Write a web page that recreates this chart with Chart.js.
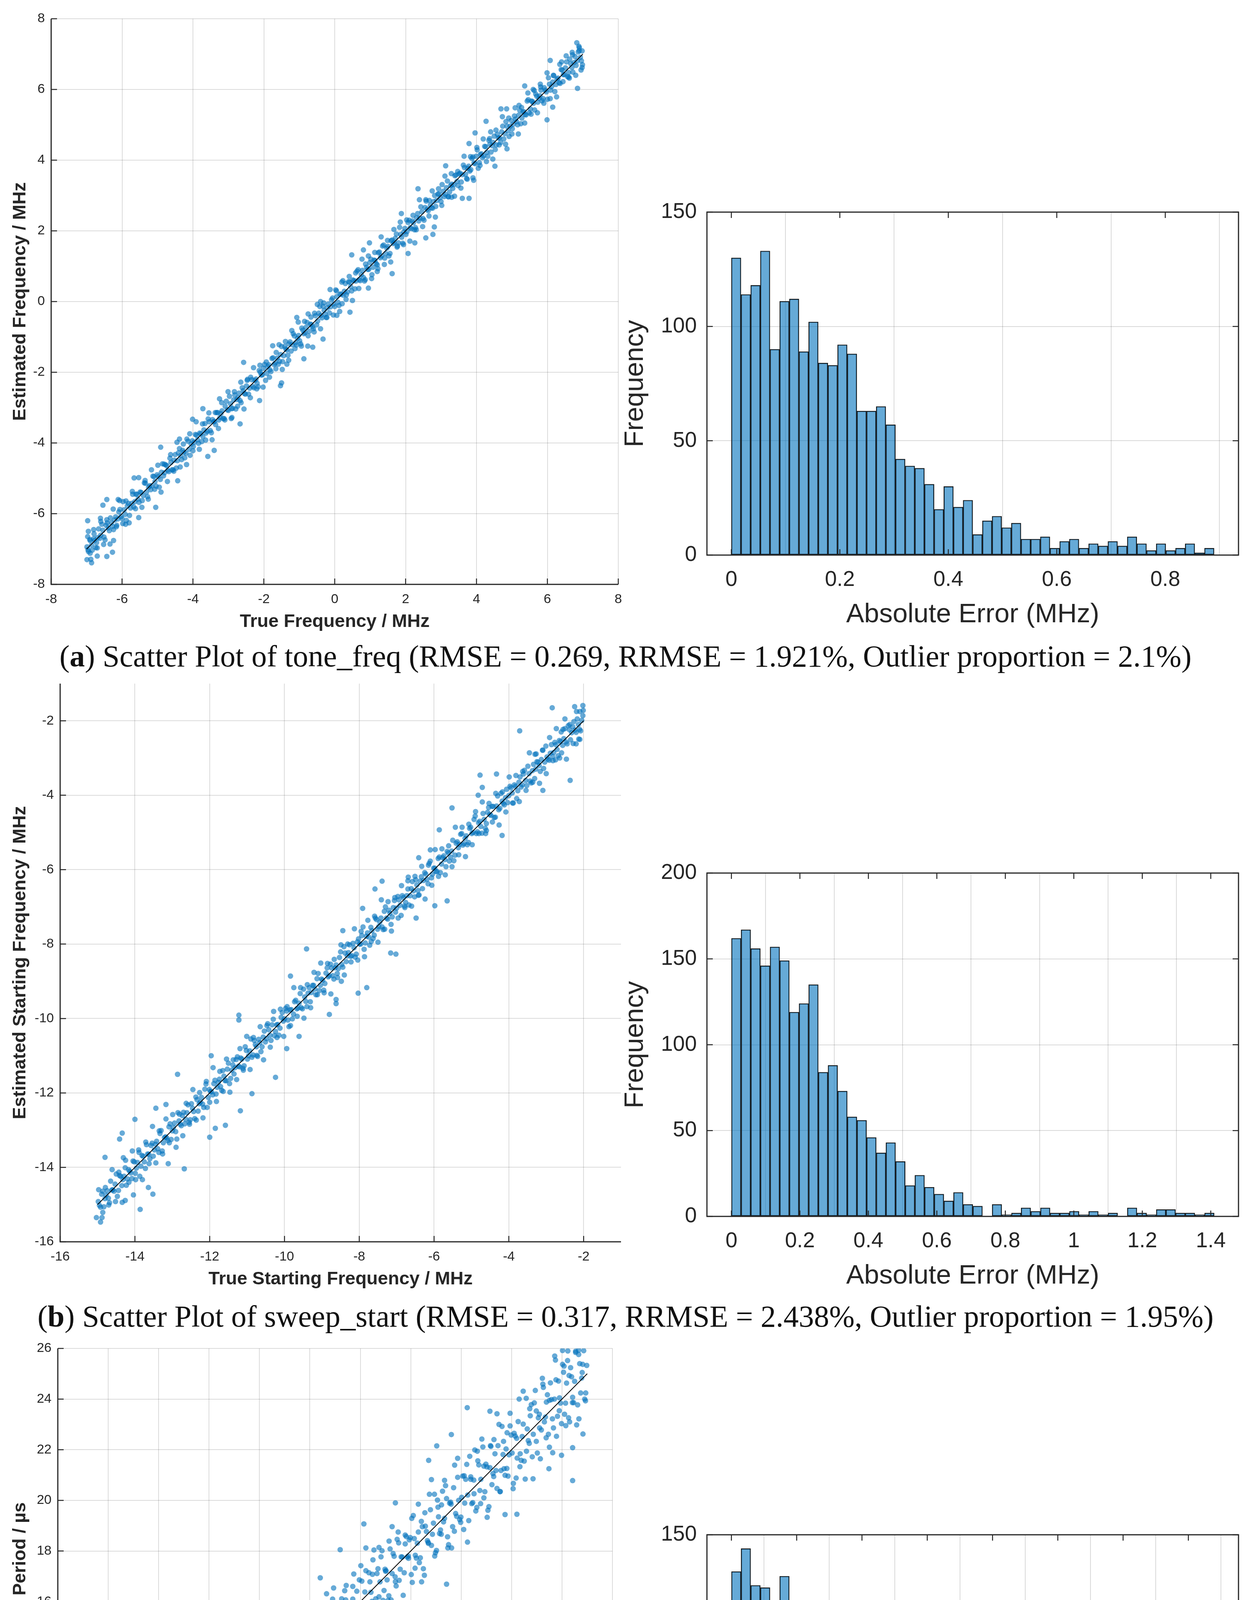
<!DOCTYPE html>
<html>
<head>
<meta charset="utf-8">
<title>Estimation scatter plots and error histograms</title>
<script src="https://cdn.jsdelivr.net/npm/chart.js"></script>
<style>
  body { margin: 0; background: #fff; }
  #page { position: relative; width: 3203px; height: 5135px; background: #fff; overflow: hidden; }
  .cap { position: absolute; left: 0; width: 3203px; text-align: center; white-space: nowrap;
         font-family: "Liberation Serif", "DejaVu Serif", serif; font-size: 78px; line-height: 84px; color: #111; }
</style>
<script>
// ---------- data ----------
// (a) tone_freq : true vs estimated frequency (MHz)
var toneTicks = [-8, -6, -4, -2, 0, 2, 4, 6, 8];
var toneIdeal = [[-7, -7], [7, 7]];
var tonePoints = [
  [-6.99,-6.94],[-6.95,-7.07],[-6.91,-6.73],[-6.86,-6.89],[-6.80,-6.71],[-6.74,-6.96],[-6.69,-6.68],[-6.63,-6.70],[-6.57,-6.30],[-6.51,-6.66],
  [-6.45,-6.33],[-6.39,-6.40],[-6.33,-6.12],[-6.27,-6.36],[-6.21,-6.18],[-6.15,-6.33],[-6.09,-5.95],[-6.03,-6.08],[-5.97,-5.66],[-5.91,-6.02],
  [-5.85,-5.78],[-5.79,-6.05],[-5.73,-5.71],[-5.67,-5.81],[-5.61,-5.45],[-5.55,-5.59],[-5.49,-5.39],[-5.43,-5.63],[-5.37,-5.13],[-5.31,-5.39],
  [-5.25,-5.25],[-5.19,-5.32],[-5.13,-4.94],[-5.07,-5.09],[-5.01,-4.90],[-4.95,-5.25],[-4.89,-4.83],[-4.83,-4.93],[-4.77,-4.62],[-4.71,-4.77],
  [-4.65,-4.43],[-4.59,-4.76],[-4.53,-4.49],[-4.47,-4.71],[-4.41,-4.28],[-4.35,-4.36],[-4.29,-4.21],[-4.23,-4.42],[-4.17,-3.89],[-4.11,-4.18],
  [-4.05,-4.03],[-3.99,-4.10],[-3.93,-3.76],[-3.87,-3.91],[-3.81,-3.72],[-3.75,-3.96],[-3.69,-3.63],[-3.63,-3.72],[-3.57,-3.32],[-3.51,-3.65],
  [-3.45,-3.34],[-3.39,-3.39],[-3.33,-3.14],[-3.27,-3.35],[-3.21,-3.17],[-3.15,-3.31],[-3.09,-2.96],[-3.03,-3.06],[-2.97,-2.68],[-2.91,-3.03],
  [-2.85,-2.78],[-2.79,-3.04],[-2.73,-2.72],[-2.67,-2.80],[-2.61,-2.44],[-2.55,-2.60],[-2.49,-2.39],[-2.43,-2.62],[-2.37,-2.14],[-2.31,-2.40],
  [-2.25,-2.23],[-2.19,-2.31],[-2.13,-1.95],[-2.07,-2.08],[-2.01,-1.89],[-1.95,-2.23],[-1.89,-1.84],[-1.83,-1.93],[-1.77,-1.61],[-1.71,-1.78],
  [-1.65,-1.44],[-1.59,-1.77],[-1.53,-1.50],[-1.47,-1.70],[-1.41,-1.27],[-1.35,-1.37],[-1.29,-1.20],[-1.23,-1.40],[-1.17,-0.91],[-1.11,-1.17],
  [-1.05,-1.04],[-0.99,-1.11],[-0.93,-0.75],[-0.87,-0.91],[-0.81,-0.73],[-0.75,-0.97],[-0.69,-0.64],[-0.63,-0.71],[-0.57,-0.33],[-0.51,-0.66],
  [-0.45,-0.33],[-0.39,-0.39],[-0.33,-0.13],[-0.27,-0.36],[-0.21,-0.18],[-0.15,-0.32],[-0.09,0.05],[-0.03,-0.07],[0.03,0.33],[0.09,-0.02],
  [0.15,0.21],[0.21,-0.06],[0.27,0.29],[0.33,0.19],[0.39,0.56],[0.45,0.42],[0.51,0.61],[0.57,0.36],[0.63,0.86],[0.69,0.62],
  [0.75,0.76],[0.81,0.68],[0.87,1.06],[0.93,0.91],[0.99,1.10],[1.05,0.76],[1.11,1.17],[1.17,1.07],[1.23,1.38],[1.29,1.24],
  [1.35,1.57],[1.41,1.23],[1.47,1.51],[1.53,1.29],[1.59,1.72],[1.65,1.64],[1.71,1.79],[1.77,1.57],[1.83,2.10],[1.89,1.82],
  [1.95,1.97],[2.01,1.90],[2.07,2.24],[2.13,2.09],[2.19,2.28],[2.25,2.03],[2.31,2.37],[2.37,2.28],[2.43,2.68],[2.49,2.35],
  [2.55,2.66],[2.61,2.61],[2.67,2.86],[2.73,2.65],[2.79,2.83],[2.85,2.69],[2.91,3.04],[2.97,2.94],[3.03,3.31],[3.09,2.97],
  [3.15,3.22],[3.21,2.96],[3.27,3.28],[3.33,3.20],[3.39,3.56],[3.45,3.40],[3.51,3.61],[3.57,3.38],[3.63,3.86],[3.69,3.60],
  [3.75,3.77],[3.81,3.69],[3.87,4.05],[3.93,3.92],[3.99,4.11],[4.05,3.77],[4.11,4.16],[4.17,4.07],[4.23,4.39],[4.29,4.22],
  [4.35,4.56],[4.41,4.23],[4.47,4.50],[4.53,4.30],[4.59,4.73],[4.65,4.63],[4.71,4.80],[4.77,4.60],[4.83,5.09],[4.89,4.83],
  [4.95,4.96],[5.01,4.89],[5.07,5.25],[5.13,5.09],[5.19,5.27],[5.25,5.03],[5.31,5.36],[5.37,5.29],[5.43,5.67],[5.49,5.34],
  [5.55,5.67],[5.61,5.61],[5.67,5.87],[5.73,5.64],[5.79,5.82],[5.85,5.68],[5.91,6.05],[5.97,5.93],[6.03,6.33],[6.09,5.98],
  [6.15,6.21],[6.21,5.94],[6.27,6.29],[6.33,6.19],[6.39,6.56],[6.45,6.42],[6.51,6.61],[6.57,6.36],[6.63,6.86],[6.69,6.62],
  [6.75,6.76],[6.81,6.68],[6.87,7.06],[6.93,6.91],[6.98,7.09],
  [-6.96,-7.02],[-6.90,-6.76],[-6.84,-7.03],[-6.78,-6.76],[-6.72,-6.82],[-6.66,-6.43],[-6.60,-6.61],[-6.54,-6.47],[-6.48,-6.74],[-6.42,-6.26],
  [-6.36,-6.48],[-6.30,-6.26],[-6.24,-6.45],[-6.18,-6.09],[-6.12,-6.15],[-6.06,-5.88],[-6.00,-6.14],[-5.94,-5.89],[-5.88,-6.19],[-5.82,-5.71],
  [-5.76,-5.84],[-5.70,-5.45],[-5.64,-5.66],[-5.58,-5.45],[-5.52,-5.68],[-5.46,-5.40],[-5.40,-5.49],[-5.34,-5.14],[-5.28,-5.52],[-5.22,-5.21],
  [-5.16,-5.21],[-5.10,-4.95],[-5.04,-5.22],[-4.98,-4.95],[-4.92,-5.03],[-4.86,-4.59],[-4.80,-4.84],[-4.74,-4.64],[-4.68,-4.81],[-4.62,-4.55],
  [-4.56,-4.76],[-4.50,-4.33],[-4.44,-4.50],[-4.38,-4.16],[-4.32,-4.47],[-4.26,-4.26],[-4.20,-4.29],[-4.14,-3.95],[-4.08,-4.35],[-4.02,-3.94],
  [-3.96,-3.98],[-3.90,-3.78],[-3.84,-4.01],[-3.78,-3.74],[-3.72,-3.82],[-3.66,-3.45],[-3.60,-3.67],[-3.54,-3.40],[-3.48,-3.71],[-3.42,-3.40],
  [-3.36,-3.48],[-3.30,-3.14],[-3.24,-3.28],[-3.18,-3.09],[-3.12,-3.31],[-3.06,-2.82],[-3.00,-3.08],[-2.94,-2.89],[-2.88,-3.02],[-2.82,-2.64],
  [-2.76,-2.77],[-2.70,-2.59],[-2.64,-2.86],[-2.58,-2.52],[-2.52,-2.62],[-2.46,-2.20],[-2.40,-2.45],[-2.34,-2.21],[-2.28,-2.44],[-2.22,-2.19],
  [-2.16,-2.41],[-2.10,-2.00],[-2.04,-2.07],[-1.98,-1.78],[-1.92,-2.03],[-1.86,-1.79],[-1.80,-1.98],[-1.74,-1.59],[-1.68,-1.74],[-1.62,-1.60],
  [-1.56,-1.69],[-1.50,-1.27],[-1.44,-1.53],[-1.38,-1.34],[-1.32,-1.52],[-1.26,-1.14],[-1.20,-1.22],[-1.14,-0.97],[-1.08,-1.23],[-1.02,-0.96],
  [-0.96,-1.20],[-0.90,-0.81],[-0.84,-0.88],[-0.78,-0.59],[-0.72,-0.84],[-0.66,-0.65],[-0.60,-0.77],[-0.54,-0.40],[-0.48,-0.55],[-0.42,-0.14],
  [-0.36,-0.46],[-0.30,-0.25],[-0.24,-0.45],[-0.18,-0.07],[-0.12,-0.15],[-0.06,0.10],[0.00,-0.14],[0.06,0.14],[0.12,-0.11],[0.18,0.21],
  [0.24,0.18],[0.30,0.51],[0.36,0.27],[0.42,0.55],[0.48,0.30],[0.54,0.59],[0.60,0.58],[0.66,0.90],[0.72,0.59],[0.78,0.88],
  [0.84,0.58],[0.90,0.97],[0.96,0.91],[1.02,1.20],[1.08,0.97],[1.14,1.16],[1.20,1.04],[1.26,1.40],[1.32,1.29],[1.38,1.60],
  [1.44,1.36],[1.50,1.56],[1.56,1.36],[1.62,1.74],[1.68,1.67],[1.74,1.91],[1.80,1.66],[1.86,1.90],[1.92,1.65],[1.98,2.07],
  [2.04,1.98],[2.10,2.30],[2.16,2.06],[2.22,2.23],[2.28,2.09],[2.34,2.49],[2.40,2.36],[2.46,2.54],[2.52,2.30],[2.58,2.84],
  [2.64,2.57],[2.70,2.73],[2.76,2.64],[2.82,3.00],[2.88,2.86],[2.94,3.05],[3.00,2.83],[3.06,3.12],[3.12,3.03],[3.18,3.41],
  [3.24,3.10],[3.30,3.32],[3.36,3.31],[3.42,3.58],[3.48,3.28],[3.54,3.63],[3.60,3.59],[3.66,3.79],[3.72,3.48],[3.78,3.83],
  [3.84,3.73],[3.90,4.09],[3.96,3.90],[4.02,4.29],[4.08,3.93],[4.14,4.18],[4.20,4.12],[4.26,4.38],[4.32,4.11],[4.38,4.45],
  [4.44,4.41],[4.50,4.68],[4.56,4.43],[4.62,4.63],[4.68,4.50],[4.74,4.96],[4.80,4.75],[4.86,4.96],[4.92,4.67],[4.98,5.12],
  [5.04,5.02],[5.10,5.16],[5.16,5.00],[5.22,5.41],[5.28,5.19],[5.34,5.37],[5.40,5.28],[5.46,5.71],[5.52,5.45],[5.58,5.66],
  [5.64,5.42],[5.70,5.81],[5.76,5.75],[5.82,5.98],[5.88,5.74],[5.94,5.98],[6.00,5.72],[6.06,6.15],[6.12,6.08],[6.18,6.39],
  [6.24,6.14],[6.30,6.32],[6.36,6.17],[6.42,6.55],[6.48,6.42],[6.54,6.78],[6.60,6.48],[6.66,6.73],[6.72,6.49],[6.78,6.93],
  [6.84,6.81],[6.90,7.10],[6.96,6.81],
  [-6.97,-6.65],[-6.88,-7.29],[-6.79,-6.57],[-6.70,-6.97],[-6.61,-6.13],[-6.52,-6.87],[-6.43,-6.17],[-6.34,-6.86],[-6.25,-5.87],[-6.16,-6.37],
  [-6.07,-5.63],[-5.98,-6.28],[-5.89,-5.64],[-5.80,-6.26],[-5.71,-5.37],[-5.62,-5.86],[-5.53,-4.98],[-5.44,-5.82],[-5.35,-5.06],[-5.26,-5.59],
  [-5.17,-4.76],[-5.08,-5.31],[-4.99,-4.63],[-4.90,-5.39],[-4.81,-4.60],[-4.72,-5.09],[-4.63,-4.33],[-4.54,-4.80],[-4.45,-3.98],[-4.36,-4.68],
  [-4.27,-4.03],[-4.18,-4.61],[-4.09,-3.74],[-4.00,-4.22],[-3.91,-3.40],[-3.82,-4.18],[-3.73,-3.46],[-3.64,-3.92],[-3.55,-3.15],[-3.46,-3.91],
  [-3.37,-3.14],[-3.28,-3.59],[-3.19,-2.86],[-3.10,-3.35],[-3.01,-2.55],[-2.92,-3.31],[-2.83,-2.55],[-2.74,-2.96],[-2.65,-2.28],[-2.56,-3.04],
  [-2.47,-2.23],[-2.38,-2.72],[-2.29,-1.87],[-2.20,-2.47],[-2.11,-1.80],[-2.02,-2.42],[-1.93,-1.71],[-1.84,-2.14],[-1.75,-1.25],[-1.66,-1.90],
  [-1.57,-1.22],[-1.48,-1.92],[-1.39,-1.13],[-1.30,-1.66],[-1.21,-0.82],[-1.12,-1.33],[-1.03,-0.58],[-0.94,-1.26],[-0.85,-0.56],[-0.76,-1.26],
  [-0.67,-0.44],[-0.58,-0.86],[-0.49,-0.08],[-0.40,-0.77],[-0.31,-0.04],[-0.22,-0.45],[-0.13,0.34],[-0.04,-0.38],[0.05,0.30],[0.14,-0.28],
  [0.23,0.59],[0.32,0.06],[0.41,0.71],[0.50,0.03],[0.59,0.81],[0.68,0.37],[0.77,1.20],[0.86,0.62],[0.95,1.29],[1.04,0.65],
  [1.13,1.39],[1.22,0.93],[1.31,1.83],[1.40,1.05],[1.49,1.73],[1.58,1.12],[1.67,2.04],[1.76,1.54],[1.85,2.25],[1.94,1.61],
  [2.03,2.31],[2.12,1.71],[2.21,2.44],[2.30,2.03],[2.39,2.88],[2.48,2.12],[2.57,2.88],[2.66,2.42],[2.75,3.13],[2.84,2.39],
  [2.93,3.19],[3.02,2.72],[3.11,3.55],[3.20,2.97],[3.29,3.62],[3.38,2.98],[3.47,3.68],[3.56,3.21],[3.65,4.11],[3.74,3.46],
  [3.83,4.10],[3.92,3.43],[4.01,4.36],[4.10,3.85],[4.19,4.60],[4.28,3.96],[4.37,4.61],[4.46,4.03],[4.55,4.85],[4.64,4.43],
  [4.73,5.23],[4.82,4.45],[4.91,5.19],[5.00,4.74],[5.09,5.48],[5.18,4.74],[5.27,5.49],[5.36,5.05],[5.45,5.90],[5.54,5.30],
  [5.63,5.97],[5.72,5.34],[5.81,6.07],[5.90,5.61],[5.99,6.47],[6.08,5.74],[6.17,6.40],[6.26,5.79],[6.35,6.71],[6.44,6.22],
  [6.53,6.95],[6.62,6.32],[6.71,6.98],[6.80,6.40],[6.89,7.22],[6.98,6.62],
  [6.83,7.32],[6.85,6.03],[6.08,6.82],[6.15,5.50],[5.99,5.14],[5.36,6.10],[4.69,5.45],[4.85,5.45],[4.27,5.10],[3.96,4.77],
  [3.79,4.47],[4.86,4.32],[4.52,3.83],[3.79,2.92],[3.60,2.92],[2.35,3.19],[3.13,3.84],[2.81,2.11],[2.77,1.90],[2.57,1.80],
  [2.26,1.66],[1.88,2.49],[2.07,1.36],[1.62,0.79],[0.95,0.38],[0.48,1.32],[0.81,1.46],[0.98,1.66],[0.43,-0.30],[0.06,-0.39],
  [-0.33,-1.06],[-0.62,-1.29],[-0.87,-1.62],[-1.07,-0.45],[-1.35,-1.77],[-1.53,-2.38],[-1.50,-2.30],[-2.12,-2.80],[-2.57,-1.72],[-2.67,-3.46],
  [-3.40,-4.21],[-3.58,-4.38],[-4.01,-3.33],[-3.25,-2.75],[-3.72,-3.03],[-4.91,-4.12],[-4.38,-3.89],[-4.43,-5.07],[-5.05,-5.82],[-5.66,-4.99],
  [-5.53,-6.11],[-6.11,-5.60],[-6.43,-5.60],[-6.27,-7.09],[-6.43,-7.21],[-6.86,-7.39],[-6.97,-6.20],[-6.54,-5.76],[-6.24,-6.76],
  [6.95,6.55],[6.90,7.18],[6.70,7.05],[6.60,6.35],[6.40,6.78],[6.99,6.70],[-6.99,-7.30],[-6.95,-6.50],[-6.90,-7.12],[-6.80,-6.45],
  [-6.70,-7.20],[-6.60,-6.22],[5.60,6.00],[5.80,6.15],[5.20,5.55],[4.40,4.80],[3.90,3.50],[3.30,2.95],[1.20,0.85],[0.20,0.55],
  [-0.40,0.00],[-0.75,-0.35],[-2.90,-3.28],[-5.90,-6.30]
];

// (b) sweep_start : true vs estimated starting frequency (MHz)
var startTicks = [-16, -14, -12, -10, -8, -6, -4, -2];
var startIdeal = [[-15, -15], [-2, -2]];
var startPoints = [
  [-14.98,-14.92],[-14.92,-15.07],[-14.86,-14.64],[-14.80,-14.84],[-14.74,-14.63],[-14.68,-14.95],[-14.62,-14.61],[-14.56,-14.64],[-14.50,-14.18],[-14.44,-14.62],
  [-14.38,-14.24],[-14.32,-14.33],[-14.26,-14.01],[-14.20,-14.31],[-14.14,-14.10],[-14.08,-14.30],[-14.02,-13.85],[-13.96,-14.02],[-13.90,-13.53],[-13.84,-13.97],
  [-13.78,-13.70],[-13.72,-14.03],[-13.66,-13.64],[-13.60,-13.77],[-13.54,-13.35],[-13.48,-13.53],[-13.42,-13.30],[-13.36,-13.60],[-13.30,-13.01],[-13.24,-13.34],
  [-13.18,-13.18],[-13.12,-13.28],[-13.06,-12.83],[-13.00,-13.02],[-12.94,-12.81],[-12.88,-13.24],[-12.82,-12.75],[-12.76,-12.88],[-12.70,-12.52],[-12.64,-12.71],
  [-12.58,-12.32],[-12.52,-12.72],[-12.46,-12.41],[-12.40,-12.69],[-12.34,-12.18],[-12.28,-12.29],[-12.22,-12.12],[-12.16,-12.39],[-12.10,-11.76],[-12.04,-12.12],
  [-11.98,-11.96],[-11.92,-12.05],[-11.86,-11.66],[-11.80,-11.85],[-11.74,-11.63],[-11.68,-11.93],[-11.62,-11.55],[-11.56,-11.67],[-11.50,-11.20],[-11.44,-11.61],
  [-11.38,-11.25],[-11.32,-11.32],[-11.26,-11.03],[-11.20,-11.30],[-11.14,-11.09],[-11.08,-11.27],[-11.02,-10.86],[-10.96,-11.00],[-10.90,-10.55],[-10.84,-10.98],
  [-10.78,-10.70],[-10.72,-11.02],[-10.66,-10.65],[-10.60,-10.76],[-10.54,-10.34],[-10.48,-10.54],[-10.42,-10.30],[-10.36,-10.59],[-10.30,-10.02],[-10.24,-10.35],
  [-10.18,-10.16],[-10.12,-10.26],[-10.06,-9.84],[-10.00,-10.01],[-9.94,-9.80],[-9.88,-10.22],[-9.82,-9.76],[-9.76,-9.88],[-9.70,-9.51],[-9.64,-9.72],
  [-9.58,-9.33],[-9.52,-9.74],[-9.46,-9.42],[-9.40,-9.68],[-9.34,-9.17],[-9.28,-9.30],[-9.22,-9.11],[-9.16,-9.36],[-9.10,-8.79],[-9.04,-9.11],
  [-8.98,-8.97],[-8.92,-9.06],[-8.86,-8.64],[-8.80,-8.85],[-8.74,-8.64],[-8.68,-8.94],[-8.62,-8.56],[-8.56,-8.66],[-8.50,-8.21],[-8.44,-8.62],
  [-8.38,-8.24],[-8.32,-8.32],[-8.26,-8.02],[-8.20,-8.31],[-8.14,-8.10],[-8.08,-8.27],[-8.02,-7.86],[-7.96,-8.00],[-7.90,-7.54],[-7.84,-7.97],
  [-7.78,-7.70],[-7.72,-8.03],[-7.66,-7.64],[-7.60,-7.76],[-7.54,-7.34],[-7.48,-7.53],[-7.42,-7.30],[-7.36,-7.61],[-7.30,-7.00],[-7.24,-7.33],
  [-7.18,-7.17],[-7.12,-7.27],[-7.06,-6.83],[-7.00,-7.03],[-6.94,-6.81],[-6.88,-7.23],[-6.82,-6.75],[-6.76,-6.88],[-6.70,-6.52],[-6.64,-6.70],
  [-6.58,-6.32],[-6.52,-6.73],[-6.46,-6.41],[-6.40,-6.68],[-6.34,-6.19],[-6.28,-6.29],[-6.22,-6.12],[-6.16,-6.38],[-6.10,-5.77],[-6.04,-6.12],
  [-5.98,-5.96],[-5.92,-6.05],[-5.86,-5.66],[-5.80,-5.85],[-5.74,-5.63],[-5.68,-5.92],[-5.62,-5.55],[-5.56,-5.66],[-5.50,-5.21],[-5.44,-5.61],
  [-5.38,-5.25],[-5.32,-5.32],[-5.26,-5.03],[-5.20,-5.30],[-5.14,-5.09],[-5.08,-5.27],[-5.02,-4.86],[-4.96,-5.00],[-4.90,-4.56],[-4.84,-4.98],
  [-4.78,-4.70],[-4.72,-5.02],[-4.66,-4.65],[-4.60,-4.76],[-4.54,-4.33],[-4.48,-4.54],[-4.42,-4.30],[-4.36,-4.59],[-4.30,-4.02],[-4.24,-4.35],
  [-4.18,-4.16],[-4.12,-4.26],[-4.06,-3.84],[-4.00,-4.01],[-3.94,-3.80],[-3.88,-4.21],[-3.82,-3.76],[-3.76,-3.88],[-3.70,-3.51],[-3.64,-3.72],
  [-3.58,-3.33],[-3.52,-3.74],[-3.46,-3.42],[-3.40,-3.67],[-3.34,-3.17],[-3.28,-3.30],[-3.22,-3.11],[-3.16,-3.36],[-3.10,-2.79],[-3.04,-3.11],
  [-2.98,-2.97],[-2.92,-3.06],[-2.86,-2.64],[-2.80,-2.85],[-2.74,-2.64],[-2.68,-2.94],[-2.62,-2.56],[-2.56,-2.66],[-2.50,-2.21],[-2.44,-2.62],
  [-2.38,-2.24],[-2.32,-2.32],[-2.26,-2.02],[-2.20,-2.31],[-2.14,-2.10],[-2.08,-2.27],[-2.02,-1.86],
  [-14.95,-15.02],[-14.89,-14.72],[-14.83,-15.06],[-14.77,-14.75],[-14.71,-14.83],[-14.65,-14.37],[-14.59,-14.60],[-14.53,-14.45],[-14.47,-14.78],[-14.41,-14.22],
  [-14.35,-14.49],[-14.29,-14.24],[-14.23,-14.48],[-14.17,-14.06],[-14.11,-14.15],[-14.05,-13.83],[-13.99,-14.16],[-13.93,-13.87],[-13.87,-14.24],[-13.81,-13.68],
  [-13.75,-13.85],[-13.69,-13.39],[-13.63,-13.65],[-13.57,-13.41],[-13.51,-13.70],[-13.45,-13.38],[-13.39,-13.50],[-13.33,-13.09],[-13.27,-13.56],[-13.21,-13.20],
  [-13.15,-13.21],[-13.09,-12.91],[-13.03,-13.25],[-12.97,-12.93],[-12.91,-13.04],[-12.85,-12.53],[-12.79,-12.84],[-12.73,-12.61],[-12.67,-12.83],[-12.61,-12.53],
  [-12.55,-12.79],[-12.49,-12.29],[-12.43,-12.50],[-12.37,-12.11],[-12.31,-12.49],[-12.25,-12.25],[-12.19,-12.30],[-12.13,-11.90],[-12.07,-12.39],[-12.01,-11.91],
  [-11.95,-11.97],[-11.89,-11.75],[-11.83,-12.03],[-11.77,-11.72],[-11.71,-11.83],[-11.65,-11.40],[-11.59,-11.67],[-11.53,-11.36],[-11.47,-11.75],[-11.41,-11.39],
  [-11.35,-11.49],[-11.29,-11.10],[-11.23,-11.28],[-11.17,-11.06],[-11.11,-11.34],[-11.05,-10.76],[-10.99,-11.09],[-10.93,-10.87],[-10.87,-11.04],[-10.81,-10.59],
  [-10.75,-10.76],[-10.69,-10.56],[-10.63,-10.89],[-10.57,-10.50],[-10.51,-10.63],[-10.45,-10.14],[-10.39,-10.45],[-10.33,-10.17],[-10.27,-10.46],[-10.21,-10.17],
  [-10.15,-10.45],[-10.09,-9.97],[-10.03,-10.07],[-9.97,-9.73],[-9.91,-10.04],[-9.85,-9.77],[-9.79,-10.01],[-9.73,-9.55],[-9.67,-9.74],[-9.61,-9.59],
  [-9.55,-9.71],[-9.49,-9.21],[-9.43,-9.54],[-9.37,-9.32],[-9.31,-9.55],[-9.25,-9.11],[-9.19,-9.21],[-9.13,-8.93],[-9.07,-9.25],[-9.01,-8.94],
  [-8.95,-9.24],[-8.89,-8.78],[-8.83,-8.88],[-8.77,-8.54],[-8.71,-8.85],[-8.65,-8.64],[-8.59,-8.79],[-8.53,-8.36],[-8.47,-8.55],[-8.41,-8.07],
  [-8.35,-8.47],[-8.29,-8.23],[-8.23,-8.33],[-8.17,-7.98],[-8.11,-8.35],[-8.05,-7.94],[-7.99,-8.00],[-7.93,-7.77],[-7.87,-8.14],[-7.81,-7.79],
  [-7.75,-7.81],[-7.69,-7.55],[-7.63,-7.85],[-7.57,-7.30],[-7.51,-7.60],[-7.45,-7.41],[-7.39,-7.54],[-7.33,-7.12],[-7.27,-7.30],[-7.21,-7.09],
  [-7.15,-7.47],[-7.09,-7.02],[-7.03,-7.14],[-6.97,-6.72],[-6.91,-6.96],[-6.85,-6.70],[-6.79,-6.98],[-6.73,-6.70],[-6.67,-6.95],[-6.61,-6.51],
  [-6.55,-6.57],[-6.49,-6.27],[-6.43,-6.56],[-6.37,-6.31],[-6.31,-6.51],[-6.25,-6.08],[-6.19,-6.26],[-6.13,-5.83],[-6.07,-6.22],[-6.01,-5.96],
  [-5.95,-6.05],[-5.89,-5.70],[-5.83,-6.08],[-5.77,-5.68],[-5.71,-5.73],[-5.65,-5.51],[-5.59,-5.77],[-5.53,-5.50],[-5.47,-5.76],[-5.41,-5.29],
  [-5.35,-5.41],[-5.29,-5.05],[-5.23,-5.34],[-5.17,-5.16],[-5.11,-5.33],[-5.05,-4.89],[-4.99,-5.03],[-4.93,-4.65],[-4.87,-5.03],[-4.81,-4.74],
  [-4.75,-4.84],[-4.69,-4.49],[-4.63,-4.89],[-4.57,-4.46],[-4.51,-4.52],[-4.45,-4.30],[-4.39,-4.60],[-4.33,-4.29],[-4.27,-4.39],[-4.21,-3.95],
  [-4.15,-4.22],[-4.09,-4.07],[-4.03,-4.20],[-3.97,-3.76],[-3.91,-3.94],[-3.85,-3.72],[-3.79,-4.09],[-3.73,-3.65],[-3.67,-3.78],[-3.61,-3.43],
  [-3.55,-3.60],[-3.49,-3.22],[-3.43,-3.62],[-3.37,-3.34],[-3.31,-3.55],[-3.25,-3.10],[-3.19,-3.20],[-3.13,-3.04],[-3.07,-3.28],[-3.01,-2.68],
  [-2.95,-3.03],[-2.89,-2.87],[-2.83,-2.96],[-2.77,-2.58],[-2.71,-2.77],[-2.65,-2.53],[-2.59,-2.86],[-2.53,-2.48],[-2.47,-2.57],[-2.41,-2.13],
  [-2.35,-2.51],[-2.29,-2.16],[-2.23,-2.25],[-2.17,-1.95],[-2.11,-2.23],[-2.05,-1.99],
  [-14.97,-14.60],[-14.88,-15.35],[-14.79,-14.54],[-14.70,-15.01],[-14.61,-14.06],[-14.52,-14.92],[-14.43,-14.13],[-14.34,-14.94],[-14.25,-13.81],[-14.16,-14.40],
  [-14.07,-13.56],[-13.98,-14.33],[-13.89,-13.60],[-13.80,-14.33],[-13.71,-13.32],[-13.62,-13.90],[-13.53,-12.90],[-13.44,-13.88],[-13.35,-13.02],[-13.26,-13.64],
  [-13.17,-12.70],[-13.08,-13.34],[-12.99,-12.58],[-12.90,-13.46],[-12.81,-12.57],[-12.72,-13.15],[-12.63,-12.28],[-12.54,-12.84],[-12.45,-11.91],[-12.36,-12.73],
  [-12.27,-11.99],[-12.18,-12.67],[-12.09,-11.69],[-12.00,-12.25],[-11.91,-11.32],[-11.82,-12.23],[-11.73,-11.42],[-11.64,-11.96],[-11.55,-11.09],[-11.46,-11.98],
  [-11.37,-11.11],[-11.28,-11.64],[-11.19,-10.81],[-11.10,-11.39],[-11.01,-10.48],[-10.92,-11.37],[-10.83,-10.51],[-10.74,-10.99],[-10.65,-10.22],[-10.56,-11.11],
  [-10.47,-10.19],[-10.38,-10.77],[-10.29,-9.81],[-10.20,-10.51],[-10.11,-9.75],[-10.02,-10.48],[-9.93,-9.68],[-9.84,-10.19],[-9.75,-9.17],[-9.66,-9.94],
  [-9.57,-9.17],[-9.48,-9.99],[-9.39,-9.09],[-9.30,-9.71],[-9.21,-8.76],[-9.12,-9.36],[-9.03,-8.51],[-8.94,-9.31],[-8.85,-8.52],[-8.76,-9.34],
  [-8.67,-8.41],[-8.58,-8.90],[-8.49,-8.02],[-8.40,-8.83],[-8.31,-8.00],[-8.22,-8.48],[-8.13,-7.59],[-8.04,-8.43],[-7.95,-7.66],[-7.86,-8.34],
  [-7.77,-7.36],[-7.68,-7.93],[-7.59,-7.25],[-7.50,-7.95],[-7.41,-6.81],[-7.32,-7.60],[-7.23,-6.86],[-7.14,-7.65],[-7.05,-6.75],[-6.96,-7.30],
  [-6.87,-6.43],[-6.78,-7.02],[-6.69,-6.20],[-6.60,-6.98],[-6.51,-6.18],[-6.42,-6.69],[-6.33,-5.91],[-6.24,-6.79],[-6.15,-5.88],[-6.06,-6.42],
  [-5.97,-5.46],[-5.88,-6.18],[-5.79,-5.44],[-5.70,-6.14],[-5.61,-5.36],[-5.52,-5.92],[-5.43,-4.86],[-5.34,-5.60],[-5.25,-4.86],[-5.16,-5.65],
  [-5.07,-4.78],[-4.98,-5.33],[-4.89,-4.44],[-4.80,-5.03],[-4.71,-4.18],[-4.62,-5.03],[-4.53,-4.22],[-4.44,-4.72],[-4.35,-3.95],[-4.26,-4.80],
  [-4.17,-3.91],[-4.08,-4.45],[-3.99,-3.51],[-3.90,-4.21],[-3.81,-3.47],[-3.72,-4.17],[-3.63,-3.36],[-3.54,-3.87],[-3.45,-2.86],[-3.36,-3.65],
  [-3.27,-2.89],[-3.18,-3.68],[-3.09,-2.79],[-3.00,-3.42],[-2.91,-2.45],[-2.82,-3.07],[-2.73,-2.21],[-2.64,-3.00],[-2.55,-2.23],[-2.46,-3.03],
  [-2.37,-2.10],[-2.28,-2.61],[-2.19,-1.75],[-2.10,-2.50],[-2.01,-1.72],
  [-2.84,-1.65],[-2.24,-1.62],[-2.02,-1.59],[-3.71,-2.27],[-2.13,-2.49],[-2.36,-3.60],[-4.77,-3.46],[-4.33,-3.43],[-4.71,-3.79],[-4.82,-4.00],
  [-3.09,-3.87],[-4.18,-5.08],[-5.52,-4.34],[-5.86,-4.93],[-6.10,-5.47],[-6.41,-5.68],[-5.98,-6.97],[-5.65,-6.84],[-6.48,-7.30],[-7.39,-6.31],
  [-7.58,-6.52],[-7.91,-7.04],[-8.44,-7.64],[-7.16,-8.24],[-7.02,-8.27],[-9.41,-8.13],[-8.48,-9.00],[-8.03,-9.32],[-7.80,-9.17],[-8.62,-9.49],
  [-8.62,-9.60],[-8.80,-9.89],[-9.84,-8.86],[-11.22,-9.91],[-11.22,-10.04],[-9.94,-10.81],[-9.61,-10.48],[-10.24,-11.58],[-10.87,-12.02],[-11.18,-12.48],
  [-11.96,-11.00],[-12.86,-11.50],[-12.00,-13.19],[-11.85,-12.95],[-11.58,-12.87],[-12.68,-14.04],[-13.11,-13.90],[-13.44,-12.41],[-13.17,-12.31],[-14.00,-12.71],
  [-14.34,-13.08],[-14.41,-13.24],[-14.80,-13.73],[-13.86,-15.13],[-13.52,-14.72],[-13.64,-14.54],[-14.92,-15.47],[-15.03,-15.35],[-14.86,-15.21],[-14.26,-14.89],
  [-14.04,-14.74],[-14.31,-13.74],[-2.10,-1.75],[-2.20,-2.62],[-2.50,-1.95],[-2.60,-2.30],[-2.75,-3.05],[-3.30,-2.90],[-4.60,-4.95],[-6.70,-6.30]
];

// (c) sweep_period : true vs estimated sweep period (us)
var periodTicks = [4, 6, 8, 10, 12, 14, 16, 18, 20, 22, 24, 26];
var periodIdeal = [[5, 5], [25, 25]];
var periodPoints = [
  [5.02,5.32],[5.10,4.50],[5.18,6.08],[5.26,5.11],[5.34,5.79],[5.42,4.32],[5.50,5.55],[5.58,5.23],[5.66,7.01],[5.74,4.99],
  [5.82,6.42],[5.90,5.85],[5.98,7.03],[6.06,5.61],[6.14,6.29],[6.22,5.32],[6.30,7.00],[6.38,6.13],[6.46,8.01],[6.54,5.99],
  [6.62,6.97],[6.70,5.40],[6.78,6.88],[6.86,6.16],[6.94,7.74],[7.02,6.82],[7.10,7.60],[7.18,6.18],[7.26,8.46],[7.34,6.94],
  [7.42,7.42],[7.50,6.85],[7.58,8.53],[7.66,7.56],[7.74,8.39],[7.82,6.02],[7.90,8.25],[7.98,7.38],[8.06,8.96],[8.14,7.79],
  [8.22,9.52],[8.30,7.30],[8.38,8.58],[8.46,7.01],[8.54,9.34],[8.62,8.57],[8.70,9.20],[8.78,7.63],[8.86,10.56],[8.94,8.54],
  [9.02,9.12],[9.10,8.45],[9.18,10.18],[9.26,9.06],[9.34,9.89],[9.42,8.17],[9.50,9.85],[9.58,9.03],[9.66,11.16],[9.74,8.89],
  [9.82,10.47],[9.90,9.90],[9.98,11.13],[10.06,9.56],[10.14,10.39],[10.22,9.27],[10.30,11.10],[10.38,10.18],[10.46,10.51],[10.54,9.89],
  [10.62,11.82],[10.70,10.55],[10.78,11.33],[10.86,9.81],[10.94,12.24],[11.02,10.72],[11.10,11.20],[11.18,10.48],[11.26,12.16],[11.34,11.24],
  [11.42,11.87],[11.50,10.40],[11.58,11.93],[11.66,11.21],[11.74,13.34],[11.82,11.22],[11.90,12.45],[11.98,10.63],[12.06,12.26],[12.14,11.59],
  [12.22,12.97],[12.30,12.05],[12.38,13.78],[12.46,11.51],[12.54,12.69],[12.62,12.27],[12.70,13.75],[12.78,12.73],[12.86,13.46],[12.94,11.79],
  [13.02,13.32],[13.10,12.35],[13.18,14.08],[13.26,13.11],[13.34,14.59],[13.42,12.92],[13.50,13.55],[13.58,12.08],[13.66,14.36],[13.74,13.44],
  [13.82,14.22],[13.90,13.05],[13.98,15.43],[14.06,13.86],[14.14,14.74],[14.22,13.57],[14.30,15.25],[14.38,13.13],[14.46,14.71],[14.54,14.09],
  [14.62,15.72],[14.70,14.60],[14.78,15.28],[14.86,13.86],[14.94,16.54],[15.02,14.47],[15.10,15.25],[15.18,14.38],[15.26,16.11],[15.34,15.29],
  [15.42,16.07],[15.50,14.10],[15.58,15.88],[15.66,15.06],[15.74,17.09],[15.82,15.47],[15.90,15.95],[15.98,15.08],[16.06,16.81],[16.14,15.94],
  [16.22,17.22],[16.30,15.10],[16.38,16.78],[16.46,16.01],[16.54,18.04],[16.62,15.87],[16.70,17.30],[16.78,16.78],[16.86,18.01],[16.94,16.44],
  [17.02,17.22],[17.10,16.05],[17.18,18.08],[17.26,17.11],[17.34,17.79],[17.42,16.62],[17.50,18.75],[17.58,17.28],[17.66,17.76],[17.74,17.14],
  [17.82,18.57],[17.90,17.80],[17.98,18.53],[18.06,16.76],[18.14,18.49],[18.22,17.72],[18.30,19.85],[18.38,17.73],[18.46,18.96],[18.54,17.04],
  [18.62,18.77],[18.70,18.30],[18.78,19.63],[18.86,18.66],[18.94,20.24],[19.02,18.02],[19.10,19.35],[19.18,18.83],[19.26,20.36],[19.34,19.29],
  [19.42,20.07],[19.50,18.25],[19.58,19.93],[19.66,18.96],[19.74,21.39],[19.82,19.37],[19.90,20.00],[19.98,19.13],[20.06,20.96],[20.14,19.89],
  [20.22,21.42],[20.30,19.20],[20.38,20.83],[20.46,19.91],[20.54,21.99],[20.62,19.72],[20.70,21.40],[20.78,20.83],[20.86,22.11],[20.94,20.34],
  [21.02,21.32],[21.10,19.75],[21.18,22.13],[21.26,21.06],[21.34,21.84],[21.42,20.47],[21.50,23.00],[21.58,21.18],[21.66,21.81],[21.74,20.99],
  [21.82,22.67],[21.90,21.80],[21.98,22.58],[22.06,20.46],[22.14,22.54],[22.22,21.67],[22.30,24.00],[22.38,21.58],[22.46,23.01],[22.54,20.84],
  [22.62,22.82],[22.70,22.25],[22.78,23.78],[22.86,22.61],[22.94,24.34],[23.02,21.87],[23.10,23.40],[23.18,22.78],[23.26,24.46],[23.34,23.29],
  [23.42,24.17],[23.50,22.10],[23.58,23.98],[23.66,22.86],[23.74,25.54],[23.82,23.32],[23.90,24.05],[23.98,23.03],[24.06,25.06],[24.14,23.84],
  [24.22,25.52],[24.30,23.10],[24.38,24.88],[24.46,23.86],[24.54,25.89],[24.62,23.77],[24.70,25.40],[24.78,24.83],[24.86,25.91],[24.94,24.24],
  [5.06,4.66],[5.14,5.84],[5.22,4.32],[5.30,5.40],[5.38,4.88],[5.46,6.61],[5.54,5.49],[5.62,5.97],[5.70,4.40],[5.78,6.58],
  [5.86,5.26],[5.94,6.14],[6.02,4.97],[6.10,6.55],[6.18,6.03],[6.26,7.16],[6.34,5.64],[6.42,6.67],[6.50,4.95],[6.58,7.13],
  [6.66,6.26],[6.74,7.99],[6.82,6.72],[6.90,7.55],[6.98,6.18],[7.06,7.21],[7.14,6.64],[7.22,8.22],[7.30,6.10],[7.38,7.43],
  [7.46,7.16],[7.54,8.44],[7.62,6.72],[7.70,8.10],[7.78,7.73],[7.86,9.21],[7.94,7.24],[8.02,8.32],[8.10,6.85],[8.18,8.78],
  [8.26,8.01],[8.34,9.44],[8.42,7.87],[8.50,8.65],[8.58,7.68],[8.66,9.41],[8.74,8.64],[8.82,10.27],[8.90,7.50],[8.98,9.48],
  [9.06,8.71],[9.14,9.99],[9.22,8.42],[9.30,9.50],[9.38,9.23],[9.46,10.66],[9.54,8.49],[9.62,10.02],[9.70,9.25],[9.78,10.73],
  [9.86,9.61],[9.94,9.99],[10.02,8.72],[10.10,10.80],[10.18,9.58],[10.26,11.66],[10.34,10.29],[10.42,10.87],[10.50,9.65],[10.58,10.83],
  [10.66,9.16],[10.74,11.64],[10.82,10.52],[10.90,11.50],[10.98,10.28],[11.06,12.16],[11.14,10.99],[11.22,11.52],[11.30,10.30],[11.38,12.63],
  [11.46,10.96],[11.54,11.64],[11.62,10.82],[11.70,12.40],[11.78,11.58],[11.86,13.36],[11.94,10.74],[12.02,12.37],[12.10,11.70],[12.18,13.13],
  [12.26,11.61],[12.34,12.49],[12.42,11.02],[12.50,13.30],[12.58,12.48],[12.66,13.16],[12.74,11.84],[12.82,14.12],[12.90,12.55],[12.98,13.03],
  [13.06,12.46],[13.14,13.89],[13.22,11.97],[13.30,13.70],[13.38,13.18],[13.46,14.61],[13.54,12.84],[13.62,13.87],[13.70,12.75],[13.78,14.78],
  [13.86,13.81],[13.94,14.54],[14.02,12.67],[14.10,14.45],[14.18,13.68],[14.26,15.66],[14.34,13.54],[14.42,14.57],[14.50,14.25],[14.58,15.43],
  [14.66,13.56],[14.74,15.24],[14.82,14.42],[14.90,16.10],[14.98,14.33],[15.06,15.36],[15.14,13.59],[15.22,15.92],[15.30,15.15],[15.38,16.43],
  [15.46,14.56],[15.54,15.64],[15.62,15.17],[15.70,16.60],[15.78,14.58],[15.86,16.41],[15.94,15.64],[16.02,17.42],[16.10,15.35],[16.18,16.38],
  [16.26,15.26],[16.34,17.14],[16.42,16.37],[16.50,17.65],[16.58,15.23],[16.66,17.11],[16.74,16.19],[16.82,17.77],[16.90,16.05],[16.98,17.28],
  [17.06,16.86],[17.14,18.39],[17.22,16.07],[17.30,17.90],[17.38,16.98],[17.46,18.46],[17.54,16.84],[17.62,17.77],[17.70,16.25],[17.78,18.63],
  [17.86,17.76],[17.94,18.44],[18.02,17.07],[18.10,19.40],[18.18,17.83],[18.26,18.31],[18.34,17.54],[18.42,19.17],[18.50,17.30],[18.58,18.98],
  [18.66,18.41],[18.74,20.24],[18.82,18.22],[18.90,19.10],[18.98,17.93],[19.06,20.01],[19.14,18.69],[19.22,19.82],[19.30,19.15],[19.38,20.58],
  [19.46,18.56],[19.54,19.89],[19.62,18.12],[19.70,20.50],[19.78,19.48],[19.86,20.91],[19.94,19.24],[20.02,20.12],[20.10,18.85],[20.18,20.83],
  [20.26,20.21],[20.34,21.74],[20.42,19.87],[20.50,20.80],[20.58,19.58],[20.66,21.56],[20.74,20.39],[20.82,22.42],[20.90,20.10],[20.98,21.43],
  [21.06,19.61],[21.14,21.29],[21.22,20.62],[21.30,22.40],[21.38,21.18],[21.46,22.16],[21.54,20.34],[21.62,22.92],[21.70,21.25],[21.78,22.03],
  [21.86,20.96],[21.94,22.94],[22.02,21.87],[22.10,22.65],[22.18,20.88],[22.26,23.11],[22.34,21.84],[22.42,22.52],[22.50,21.55],[22.58,24.03],
  [22.66,22.36],[22.74,23.34],[22.82,21.72],[22.90,23.85],[22.98,22.33],[23.06,23.26],[23.14,21.64],[23.22,24.82],[23.30,23.10],[23.38,23.88],
  [23.46,22.61],[23.54,24.64],[23.62,23.22],[23.70,24.00],[23.78,22.53],[23.86,24.71],[23.94,23.84],[24.02,25.37],[24.10,23.40],[24.18,24.63],
  [24.26,23.26],[24.34,25.24],[24.42,24.07],[24.50,24.70],[24.58,22.98],[24.66,25.76],[24.74,24.24],[24.82,25.37],[24.90,24.00],[24.98,25.33],
  [5.04,6.04],[5.17,4.47],[5.30,5.65],[5.43,4.23],[5.56,6.36],[5.69,5.44],[5.82,7.42],[5.95,5.00],[6.08,6.58],[6.21,5.76],
  [6.34,7.54],[6.47,5.37],[6.60,6.75],[6.73,5.93],[6.86,8.31],[6.99,6.49],[7.12,7.82],[7.25,5.75],[7.38,7.83],[7.51,7.36],
  [7.64,8.64],[7.77,7.07],[7.90,8.25],[8.03,6.68],[8.16,8.96],[8.29,8.04],[8.42,10.07],[8.55,7.60],[8.68,9.18],[8.81,8.36],
  [8.94,10.14],[9.07,7.97],[9.20,9.35],[9.33,8.53],[9.46,10.91],[9.59,9.09],[9.72,10.42],[9.85,8.35],[9.98,10.43],[10.11,9.96],
  [10.24,11.29],[10.37,9.62],[10.50,10.85],[10.63,9.23],[10.76,11.61],[10.89,10.64],[11.02,12.72],[11.15,10.15],[11.28,11.78],[11.41,10.96],
  [11.54,12.79],[11.67,10.52],[11.80,12.00],[11.93,11.08],[12.06,13.66],[12.19,11.64],[12.32,13.07],[12.45,10.75],[12.58,13.03],[12.71,12.51],
  [12.84,13.99],[12.97,12.17],[13.10,13.50],[13.23,11.73],[13.36,14.26],[13.49,13.19],[13.62,15.42],[13.75,12.70],[13.88,14.43],[14.01,13.51],
  [14.14,15.44],[14.27,13.02],[14.40,14.60],[14.53,13.63],[14.66,16.31],[14.79,14.19],[14.92,15.72],[15.05,13.25],[15.18,15.68],[15.31,15.11],
  [15.44,16.64],[15.57,14.77],[15.70,16.10],[15.83,14.23],[15.96,16.86],[16.09,15.79],[16.22,18.12],[16.35,15.25],[16.48,17.08],[16.61,16.11],
  [16.74,18.14],[16.87,15.57],[17.00,17.20],[17.13,16.23],[17.26,18.96],[17.39,16.79],[17.52,18.32],[17.65,15.85],[17.78,18.28],[17.91,17.71],
  [18.04,19.29],[18.17,17.32],[18.30,18.75],[18.43,16.78],[18.56,19.51],[18.69,18.34],[18.82,20.82],[18.95,17.80],[19.08,19.73],[19.21,18.66],
  [19.34,20.79],[19.47,18.12],[19.60,19.85],[19.73,18.78],[19.86,21.66],[19.99,19.34],[20.12,20.97],[20.25,18.35],[20.38,20.93],[20.51,20.26],
  [20.64,21.94],[20.77,19.87],[20.90,21.35],[21.03,19.33],[21.16,22.16],[21.29,20.94],[21.42,23.42],[21.55,20.35],[21.68,22.33],[21.81,21.26],
  [21.94,23.44],[22.07,20.67],[22.20,22.45],[22.33,21.33],[22.46,24.31],[22.59,21.94],[22.72,23.62],[22.85,20.85],[22.98,23.53],[23.11,22.86],
  [23.24,24.59],[23.37,22.47],[23.50,23.95],[23.63,21.88],[23.76,24.76],[23.89,23.54],[24.02,25.92],[24.15,22.95],[24.28,24.93],[24.41,23.86],
  [24.54,25.84],[24.67,23.22],[24.80,25.05],[24.93,23.93],
  [24.23,25.90],[24.66,25.93],[20.24,23.66],[21.14,23.52],[19.03,22.15],[18.71,21.58],[19.61,22.60],[24.42,20.78],[22.21,19.45],[19.42,16.69],
  [17.48,14.38],[16.69,13.51],[16.03,13.61],[16.14,19.07],[17.39,19.90],[15.20,18.05],[14.41,16.94],[13.12,15.94],[12.71,15.52],[11.19,14.13],
  [10.70,13.59],[15.72,12.09],[14.90,12.15],[14.74,11.20],[14.33,10.70],[12.20,9.91],[12.63,10.16],[9.49,12.47],[9.69,12.47],[5.29,7.83],
  [7.42,5.17],[5.26,4.07],[5.03,4.33],[5.73,4.30],[6.73,4.67],[6.44,7.48],[6.49,8.05],[8.89,6.76],[8.15,6.23],[8.05,10.17],
  [10.39,8.40],[21.74,19.44],[24.42,22.08],[23.98,21.78],[23.48,21.25],[24.83,22.62],[23.71,25.70],[24.08,25.30]
];

// histograms of absolute error: 50 bins each, counts per bin
var toneErrBinStart = 0, toneErrBinWidth = 0.0178;
var toneErrCounts = [130,114,118,133,90,111,112,89,102,84,83,92,88,63,63,65,57,42,39,38,
                     31,20,30,21,24,9,15,17,12,14,7,7,8,3,6,7,3,5,4,6,4,8,5,2,5,2,3,5,1,3];
var toneErrTicks = [0, 0.2, 0.4, 0.6, 0.8];

var startErrBinStart = 0, startErrBinWidth = 0.0282;
var startErrCounts = [162,167,156,146,157,149,119,124,135,84,88,73,58,56,46,37,43,32,18,24,
                      17,13,9,14,7,6,0,7,1,2,5,3,5,2,2,3,1,3,1,2,0,5,2,1,4,4,2,2,1,2];
var startErrTicks = [0, 0.2, 0.4, 0.6, 0.8, 1, 1.2, 1.4];

var periodErrBinStart = 0, periodErrBinWidth = 0.0739;
var periodErrCounts = [134,144,128,127,110,132,104,95,108,86,101,77,77,61,54,52,55,42,37,42,
                       33,36,21,20,23,9,15,15,5,5,8,5,5,7,2,0,0,6,4,4,2,1,2,1,0,1,0,0,1,3];
var periodErrTicks = [0, 0.5, 1, 1.5, 2, 2.5, 3, 3.5];

var freqTicks150 = [0, 50, 100, 150];
var freqTicks200 = [0, 50, 100, 150, 200];
</script>
</head>
<body>
<div id="page">
  <div class="cap" style="top:1638px">(<b>a</b>) Scatter Plot of tone_freq (RMSE = 0.269, RRMSE = 1.921%, Outlier proportion = 2.1%)</div>
  <div class="cap" style="top:3328px">(<b>b</b>) Scatter Plot of sweep_start (RMSE = 0.317, RRMSE = 2.438%, Outlier proportion = 1.95%)</div>
  <div class="cap" style="top:5026px">(<b>c</b>) Scatter Plot of sweep_period (RMSE = 1.069, RRMSE = 5.345%, Outlier proportion = 1.85%)</div>
</div>

<script>
var INK = '#262626';
var SANS = '"Liberation Sans", Arial, Helvetica, sans-serif';
var FILL = 'rgba(0,114,189,0.6)';

function mount(left, top, w, h) {
  var c = document.createElement('canvas');
  c.width = w;
  c.height = h;
  c.style.cssText = 'position:absolute;left:' + left + 'px;top:' + top + 'px;width:' + w + 'px;height:' + h + 'px';
  document.getElementById('page').appendChild(c);
  return c;
}

function fixedTicks(list) {
  return function (scale) {
    scale.ticks = list.map(function (v) { return { value: v }; });
  };
}

function toXY(pairs) {
  return pairs.map(function (p) { return { x: p[0], y: p[1] }; });
}

// inward tick marks; full box for the histograms, left+bottom axes only for the scatters
var frame = {
  id: 'frame',
  afterDraw: function (chart, args, opts) {
    var ctx = chart.ctx, a = chart.chartArea, sx = chart.scales.x, sy = chart.scales.y;
    var len = 15, box = opts.box;
    ctx.save();
    ctx.strokeStyle = INK;
    ctx.lineWidth = 2.5;
    ctx.beginPath();
    sx.ticks.forEach(function (t) {
      var p = sx.getPixelForValue(t.value);
      ctx.moveTo(p, a.bottom); ctx.lineTo(p, a.bottom - len);
      if (box) { ctx.moveTo(p, a.top); ctx.lineTo(p, a.top + len); }
    });
    sy.ticks.forEach(function (t) {
      var p = sy.getPixelForValue(t.value);
      ctx.moveTo(a.left, p); ctx.lineTo(a.left + len, p);
      if (box) { ctx.moveTo(a.right, p); ctx.lineTo(a.right - len, p); }
    });
    ctx.stroke();
    ctx.lineWidth = 3;
    ctx.beginPath();
    if (box) {
      ctx.rect(a.left, a.top, a.right - a.left, a.bottom - a.top);
    } else {
      ctx.moveTo(a.left, a.top); ctx.lineTo(a.left, a.bottom); ctx.lineTo(a.right, a.bottom);
    }
    ctx.stroke();
    ctx.restore();
  }
};

function scatterChart(area, xr, yr, pts, ideal, xTitle, yTitle) {
  var padT = 40, padR = 30, xH = 124;
  var canvas = mount(0, area.t - padT, area.r + padR, padT + (area.b - area.t) + xH);
  var tickFont = { family: SANS, size: 34 };
  var titleFont = { family: SANS, size: 47, weight: 'bold' };
  function axis(r, title, isX) {
    return {
      type: 'linear', min: r.min, max: r.max,
      afterBuildTicks: fixedTicks(r.ticks),
      afterFit: function (s) { if (isX) { s.height = xH; } else { s.width = area.l; } },
      ticks: { font: tickFont, color: INK, padding: isX ? 18 : 16, autoSkip: false, maxRotation: 0,
               callback: function (v) { return String(v); } },
      grid: { color: 'rgba(0,0,0,0.14)', lineWidth: 2, drawTicks: false },
      border: { display: false },
      title: { display: true, text: title, font: titleFont, color: INK,
               padding: isX ? { top: 0, bottom: 0 } : { top: 24, bottom: 0 } }
    };
  }
  return new Chart(canvas.getContext('2d'), {
    type: 'scatter',
    data: {
      datasets: [
        { data: toXY(ideal), showLine: true, borderColor: '#000', borderWidth: 2, pointRadius: 0, order: 0 },
        { data: toXY(pts), pointRadius: 7, pointBorderWidth: 0, backgroundColor: FILL, borderColor: 'rgba(0,0,0,0)', order: 1 }
      ]
    },
    plugins: [frame],
    options: {
      responsive: false, devicePixelRatio: 1, animation: false, events: [],
      layout: { padding: { top: padT, right: padR, left: 0, bottom: 0 } },
      plugins: { legend: { display: false }, tooltip: { enabled: false }, frame: { box: false } },
      scales: { x: axis(xr, xTitle, true), y: axis(yr, yTitle, false) }
    }
  });
}

function histChart(area, counts, binStart, binWidth, xr, yr, xTitle) {
  var canvasLeft = 1560, padT = 40, padR = 30, xH = 194;
  var yW = area.l - canvasLeft;
  var canvas = mount(canvasLeft, area.t - padT, yW + (area.r - area.l) + padR, padT + (area.b - area.t) + xH);
  var bars = counts.map(function (c, i) { return { x: binStart + (i + 0.5) * binWidth, y: c }; });
  var tickFont = { family: SANS, size: 55 };
  var titleFont = { family: SANS, size: 69 };
  return new Chart(canvas.getContext('2d'), {
    type: 'bar',
    data: {
      datasets: [{
        data: bars, backgroundColor: FILL, borderColor: '#1a1a1a', borderWidth: 2,
        borderSkipped: false, barPercentage: 1, categoryPercentage: 1
      }]
    },
    plugins: [frame],
    options: {
      responsive: false, devicePixelRatio: 1, animation: false, events: [],
      layout: { padding: { top: padT, right: padR, left: 0, bottom: 0 } },
      plugins: { legend: { display: false }, tooltip: { enabled: false }, frame: { box: true } },
      scales: {
        x: {
          type: 'linear', offset: false, min: xr.min, max: xr.max,
          afterBuildTicks: fixedTicks(xr.ticks),
          afterFit: function (s) { s.height = xH; },
          ticks: { font: tickFont, color: INK, padding: 31, autoSkip: false, maxRotation: 0,
                   callback: function (v) { return String(v); } },
          grid: { color: 'rgba(0,0,0,0.15)', lineWidth: 2, drawTicks: false },
          border: { display: false },
          title: { display: true, text: xTitle, font: titleFont, color: INK, padding: { top: 0, bottom: 0 } }
        },
        y: {
          type: 'linear', min: yr.min, max: yr.max,
          afterBuildTicks: fixedTicks(yr.ticks),
          afterFit: function (s) { s.width = yW; },
          ticks: { font: tickFont, color: INK, padding: 26, autoSkip: false,
                   callback: function (v) { return String(v); } },
          grid: { color: 'rgba(0,0,0,0.15)', lineWidth: 2, drawTicks: false },
          border: { display: false },
          title: { display: true, text: 'Frequency', font: titleFont, color: INK, padding: { top: 26, bottom: 0 } }
        }
      }
    }
  });
}

// row (a)
scatterChart({ l: 131, t: 48, r: 1583, b: 1496 },
  { min: -8, max: 8, ticks: toneTicks }, { min: -8, max: 8, ticks: toneTicks },
  tonePoints, toneIdeal, 'True Frequency / MHz', 'Estimated Frequency / MHz');
histChart({ l: 1810, t: 524, r: 3171, b: 1421 }, toneErrCounts, toneErrBinStart, toneErrBinWidth,
  { min: -0.045, max: 0.935, ticks: toneErrTicks }, { min: 0, max: 150, ticks: freqTicks150 },
  'Absolute Error (MHz)');

// row (b)
scatterChart({ l: 154, t: 1750, r: 1590, b: 3179 },
  { min: -16, max: -1, ticks: startTicks }, { min: -16, max: -1, ticks: startTicks },
  startPoints, startIdeal, 'True Starting Frequency / MHz', 'Estimated Starting Frequency / MHz');
histChart({ l: 1810, t: 2216, r: 3171, b: 3114 }, startErrCounts, startErrBinStart, startErrBinWidth,
  { min: -0.0715, max: 1.481, ticks: startErrTicks }, { min: 0, max: 200, ticks: freqTicks200 },
  'Absolute Error (MHz)');

// row (c)
scatterChart({ l: 148, t: 3452, r: 1575, b: 4878 },
  { min: 4, max: 26, ticks: periodTicks }, { min: 4, max: 26, ticks: periodTicks },
  periodPoints, periodIdeal, 'True Sweep Period / µs', 'Estimated Sweep Period / µs');
histChart({ l: 1810, t: 3910, r: 3171, b: 4812 }, periodErrCounts, periodErrBinStart, periodErrBinWidth,
  { min: -0.1875, max: 3.884, ticks: periodErrTicks }, { min: 0, max: 150, ticks: freqTicks150 },
  'Absolute Error (µs)');
</script>
</body>
</html>
